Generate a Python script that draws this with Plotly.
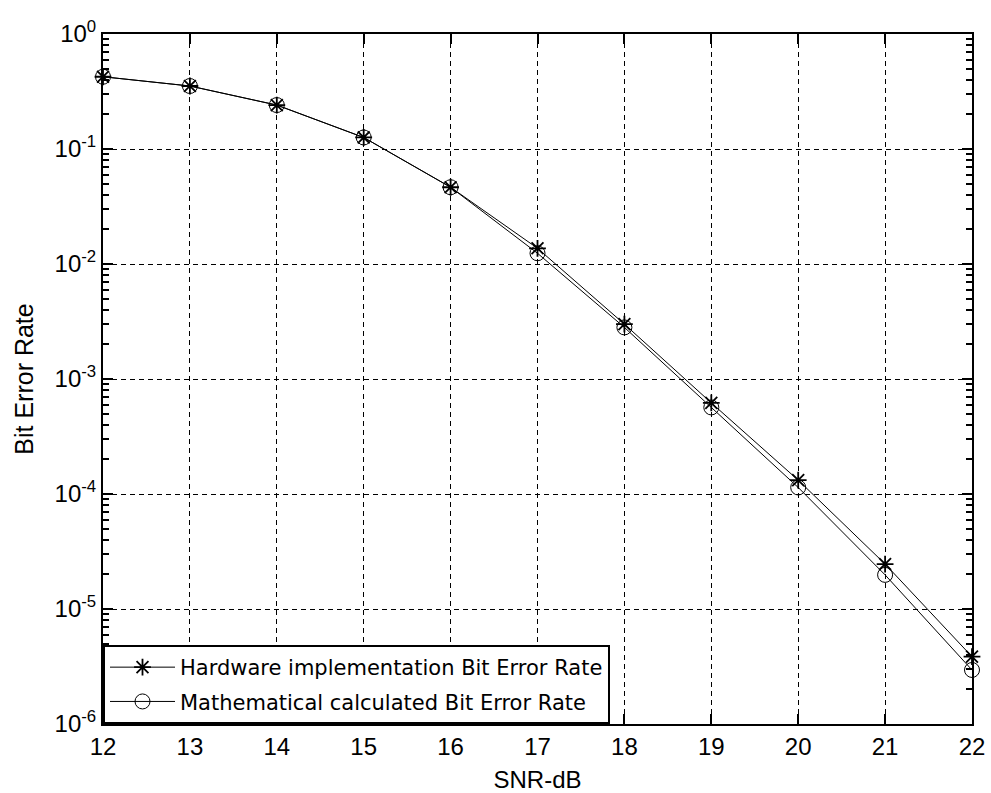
import plotly.graph_objects as go

snr_db = [12, 13, 14, 15, 16, 17, 18, 19, 20, 21, 22]
ber_hardware = [0.425, 0.353, 0.241, 0.126, 0.0465, 0.0137, 3.0e-3, 6.2e-4, 1.32e-4, 2.46e-5, 3.85e-6]
ber_math = [0.425, 0.353, 0.241, 0.126, 0.0465, 0.0124, 2.81e-3, 5.66e-4, 1.14e-4, 1.98e-5, 2.95e-6]

x_ticks = list(range(12, 23))
y_exponents = [0, -1, -2, -3, -4, -5, -6]
y_tickvals = [10.0 ** e for e in y_exponents]
y_ticktext = ["10<sup>%d</sup>" % e for e in y_exponents]

FONT = "Liberation Sans, Arial, sans-serif"
LEG_FONT = "DejaVu Sans, Liberation Sans, sans-serif"

fig = go.Figure()
fig.add_trace(go.Scatter(
    x=snr_db, y=ber_hardware, mode="lines+markers",
    name="Hardware implementation Bit Error Rate",
    legendgroup="a", cliponaxis=False,
    line=dict(color="black", width=1),
    marker=dict(symbol="asterisk-open", size=14, color="black",
                line=dict(color="black", width=1.8)),
))
fig.add_trace(go.Scatter(
    x=snr_db, y=ber_math, mode="lines+markers",
    name="Mathematical calculated Bit Error Rate",
    legendgroup="b", cliponaxis=False,
    line=dict(color="black", width=1),
    marker=dict(symbol="circle-open", size=15, color="black",
                line=dict(color="black", width=1)),
))

axis_common = dict(
    automargin=False,
    showline=True, linecolor="black", linewidth=2, mirror="ticks",
    ticks="inside", ticklen=10, tickwidth=1.5, tickcolor="black",
    showgrid=True, gridcolor="black", gridwidth=1, griddash="5px,4px",
    zeroline=False, tickfont=dict(size=24, color="black"),
)

fig.update_layout(
    width=991, height=793,
    margin=dict(l=103, r=19, t=34, b=69),
    paper_bgcolor="white", plot_bgcolor="white",
    font=dict(family=FONT, size=22, color="black"),
    showlegend=True,
    legend=dict(
        x=0, y=0, xanchor="left", yanchor="bottom",
        bgcolor="white", bordercolor="black", borderwidth=2,
        font=dict(family=LEG_FONT, size=21, color="black"),
        traceorder="grouped", tracegroupgap=4, itemwidth=65,
    ),
    xaxis=dict(
        range=[12, 22], tickvals=x_ticks,
        title=dict(text="SNR-dB", font=dict(size=24), standoff=12),
        **axis_common,
    ),
    yaxis=dict(
        type="log", range=[-6, 0],
        tickvals=y_tickvals, ticktext=y_ticktext,
        minor=dict(dtick="D1", ticks="inside", ticklen=6,
                   tickwidth=1.5, tickcolor="black", showgrid=False),
        title=dict(text="Bit Error Rate", font=dict(size=25), standoff=14),
        **axis_common,
    ),
)

fig.write_html("out.html")
